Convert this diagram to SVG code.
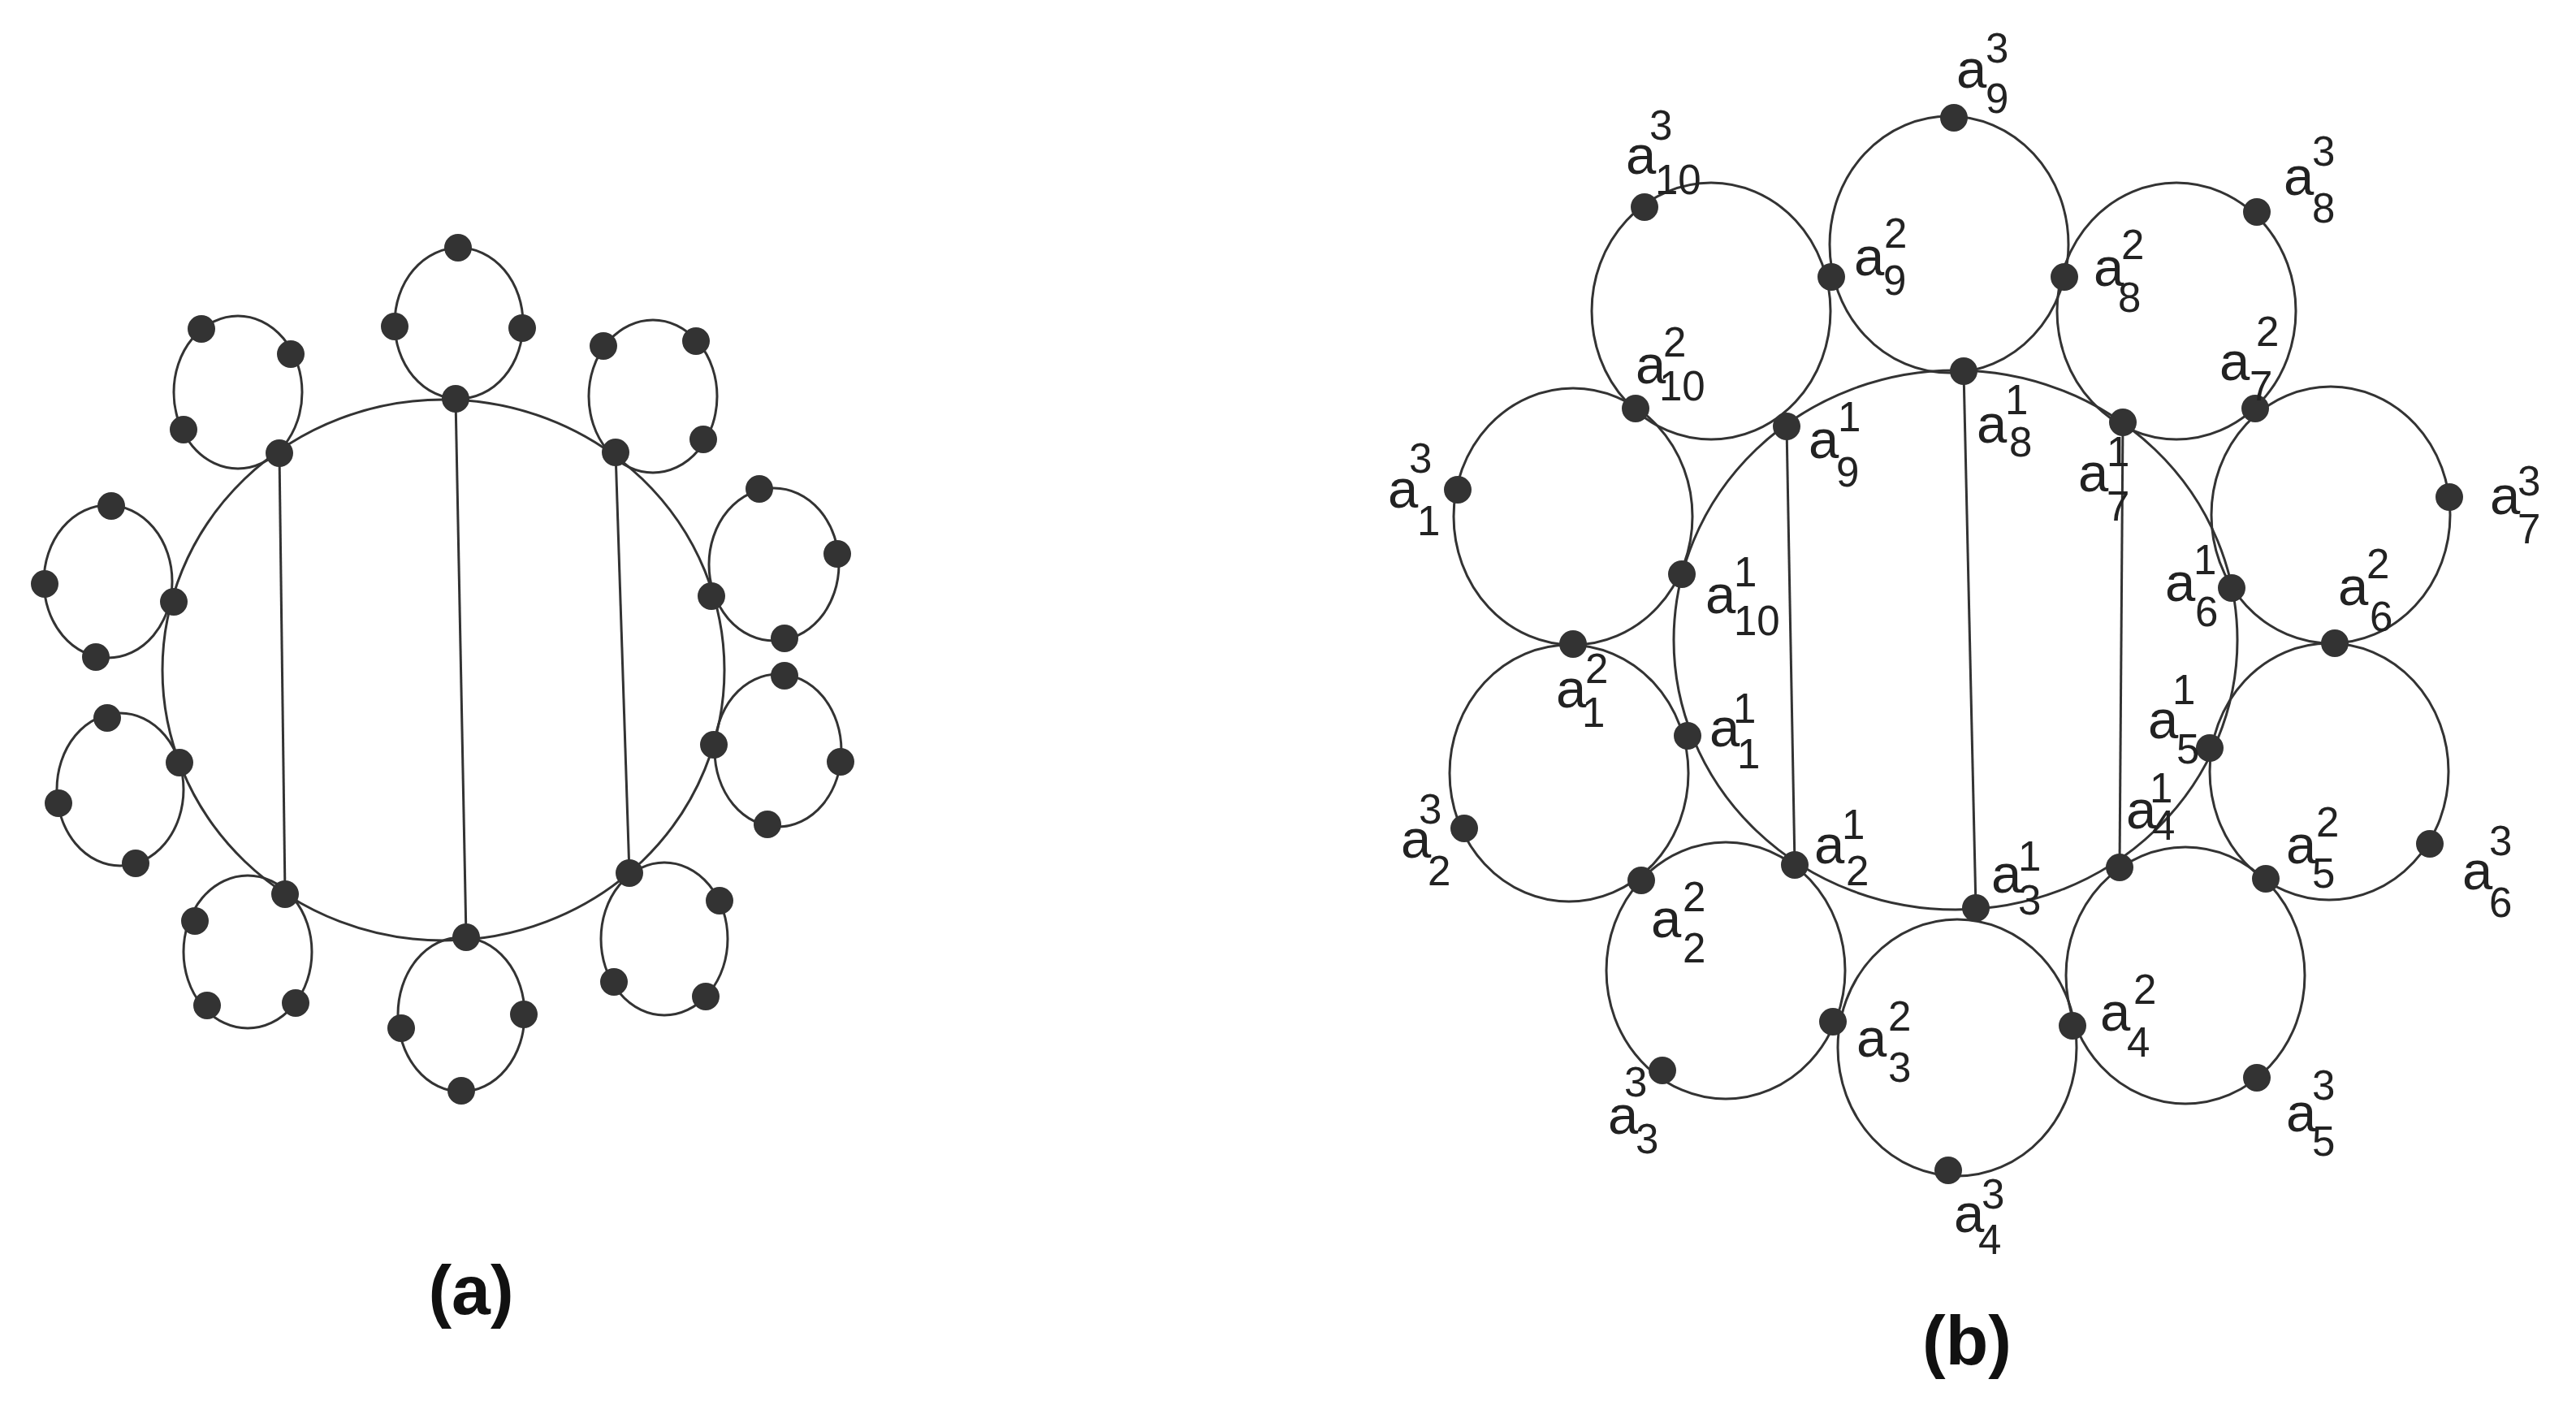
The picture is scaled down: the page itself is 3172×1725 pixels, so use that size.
<svg xmlns="http://www.w3.org/2000/svg" width="3172" height="1725" viewBox="0 0 3172 1725">
<style>
.c{fill:none;stroke:#333;stroke-width:3}
.e{stroke:#333;stroke-width:3}
.d{fill:#333}
.lb{font-family:"Liberation Sans",Arial,sans-serif;font-size:67px;fill:#222}
.s{font-size:51px}
.cap{font-family:"Liberation Sans",Arial,sans-serif;font-size:86px;font-weight:bold;fill:#111;text-anchor:middle}
</style>
<rect width="3172" height="1725" fill="#fff"/>
<g id="graph-a">
<g id="a-big"><ellipse class="c" cx="546" cy="825" rx="346" ry="333"/></g>
<g id="a-connectors">
<line class="e" x1="344" y1="558" x2="351" y2="1101"/>
<line class="e" x1="561" y1="491" x2="574" y2="1154"/>
<line class="e" x1="758" y1="557" x2="775" y2="1075"/>
</g>
<g id="a-c1"><ellipse class="c" cx="293" cy="483" rx="79" ry="94"/><circle class="d" cx="248" cy="405" r="17"/><circle class="d" cx="358" cy="436" r="17"/><circle class="d" cx="226" cy="529" r="17"/><circle class="d" cx="344" cy="558" r="17"/></g>
<g id="a-c2"><ellipse class="c" cx="565" cy="398" rx="79" ry="93"/><circle class="d" cx="564" cy="305" r="17"/><circle class="d" cx="486" cy="402" r="17"/><circle class="d" cx="643" cy="404" r="17"/><circle class="d" cx="561" cy="491" r="17"/></g>
<g id="a-c3"><ellipse class="c" cx="804" cy="488" rx="79" ry="94"/><circle class="d" cx="743" cy="426" r="17"/><circle class="d" cx="857" cy="420" r="17"/><circle class="d" cx="866" cy="541" r="17"/><circle class="d" cx="758" cy="557" r="17"/></g>
<g id="a-c4"><ellipse class="c" cx="953" cy="695" rx="80" ry="94"/><circle class="d" cx="935" cy="602" r="17"/><circle class="d" cx="1031" cy="682" r="17"/><circle class="d" cx="966" cy="786" r="17"/><circle class="d" cx="876" cy="734" r="17"/></g>
<g id="a-c5"><ellipse class="c" cx="958" cy="924" rx="78" ry="94"/><circle class="d" cx="966" cy="832" r="17"/><circle class="d" cx="1035" cy="938" r="17"/><circle class="d" cx="945" cy="1015" r="17"/><circle class="d" cx="879" cy="917" r="17"/></g>
<g id="a-c6"><ellipse class="c" cx="818" cy="1156" rx="78" ry="94"/><circle class="d" cx="886" cy="1109" r="17"/><circle class="d" cx="756" cy="1209" r="17"/><circle class="d" cx="869" cy="1227" r="17"/><circle class="d" cx="775" cy="1075" r="17"/></g>
<g id="a-c7"><ellipse class="c" cx="568" cy="1249" rx="78" ry="95"/><circle class="d" cx="494" cy="1266" r="17"/><circle class="d" cx="645" cy="1249" r="17"/><circle class="d" cx="568" cy="1343" r="17"/><circle class="d" cx="574" cy="1154" r="17"/></g>
<g id="a-c8"><ellipse class="c" cx="305" cy="1172" rx="79" ry="94"/><circle class="d" cx="240" cy="1134" r="17"/><circle class="d" cx="255" cy="1238" r="17"/><circle class="d" cx="364" cy="1235" r="17"/><circle class="d" cx="351" cy="1101" r="17"/></g>
<g id="a-c9"><ellipse class="c" cx="148" cy="972" rx="78" ry="94"/><circle class="d" cx="132" cy="884" r="17"/><circle class="d" cx="72" cy="989" r="17"/><circle class="d" cx="167" cy="1063" r="17"/><circle class="d" cx="221" cy="939" r="17"/></g>
<g id="a-c10"><ellipse class="c" cx="133" cy="716" rx="79" ry="94"/><circle class="d" cx="137" cy="623" r="17"/><circle class="d" cx="55" cy="719" r="17"/><circle class="d" cx="118" cy="809" r="17"/><circle class="d" cx="214" cy="741" r="17"/></g>
<text class="cap" x="580" y="1618">(a)</text>
</g>
<g id="graph-b">
<g id="b-big"><ellipse class="c" cx="2408" cy="788" rx="347" ry="332"/></g>
<g id="b-connectors">
<line class="e" x1="2200" y1="525" x2="2210" y2="1065"/>
<line class="e" x1="2418" y1="457" x2="2433" y2="1118"/>
<line class="e" x1="2614" y1="520" x2="2610" y2="1068"/>
</g>
<g id="b-circles">
<ellipse class="c" cx="2400" cy="301" rx="147" ry="158"/>
<ellipse class="c" cx="2107" cy="383" rx="147" ry="158"/>
<ellipse class="c" cx="2680" cy="383" rx="147" ry="158"/>
<ellipse class="c" cx="1937" cy="636" rx="147" ry="158"/>
<ellipse class="c" cx="2870" cy="634" rx="147" ry="158"/>
<ellipse class="c" cx="1932" cy="952" rx="147" ry="158"/>
<ellipse class="c" cx="2868" cy="950" rx="147" ry="158"/>
<ellipse class="c" cx="2125" cy="1195" rx="147" ry="158"/>
<ellipse class="c" cx="2691" cy="1201" rx="147" ry="158"/>
<ellipse class="c" cx="2410" cy="1290" rx="147" ry="158"/>
</g>
<g id="b-nodes">
<g id="n-a9-3"><circle class="d" cx="2406" cy="145" r="17"/><text class="lb" x="2409" y="108">a<tspan class="s" x="2445" y="77">3</tspan><tspan class="s" x="2445" y="139">9</tspan></text></g>
<g id="n-a10-3"><circle class="d" cx="2025" cy="255" r="17"/><text class="lb" x="2002" y="214">a<tspan class="s" x="2031" y="172">3</tspan><tspan class="s" x="2038" y="239">10</tspan></text></g>
<g id="n-a9-2"><circle class="d" cx="2255" cy="341" r="17"/><text class="lb" x="2283" y="339">a<tspan class="s" x="2320" y="305">2</tspan><tspan class="s" x="2319" y="363">9</tspan></text></g>
<g id="n-a8-2"><circle class="d" cx="2542" cy="341" r="17"/><text class="lb" x="2578" y="352">a<tspan class="s" x="2612" y="319">2</tspan><tspan class="s" x="2608" y="384">8</tspan></text></g>
<g id="n-a8-3"><circle class="d" cx="2779" cy="261" r="17"/><text class="lb" x="2812" y="240">a<tspan class="s" x="2847" y="204">3</tspan><tspan class="s" x="2847" y="274">8</tspan></text></g>
<g id="n-a10-2"><circle class="d" cx="2014" cy="503" r="17"/><text class="lb" x="2014" y="472">a<tspan class="s" x="2048" y="439">2</tspan><tspan class="s" x="2043" y="493">10</tspan></text></g>
<g id="n-a7-2"><circle class="d" cx="2777" cy="503" r="17"/><text class="lb" x="2733" y="468">a<tspan class="s" x="2778" y="426">2</tspan><tspan class="s" x="2770" y="493">7</tspan></text></g>
<g id="n-a8-1"><circle class="d" cx="2418" cy="457" r="17"/><text class="lb" x="2434" y="545">a<tspan class="s" x="2469" y="510">1</tspan><tspan class="s" x="2474" y="562">8</tspan></text></g>
<g id="n-a9-1"><circle class="d" cx="2200" cy="525" r="17"/><text class="lb" x="2227" y="564">a<tspan class="s" x="2263" y="531">1</tspan><tspan class="s" x="2261" y="599">9</tspan></text></g>
<g id="n-a7-1"><circle class="d" cx="2614" cy="520" r="17"/><text class="lb" x="2559" y="605">a<tspan class="s" x="2594" y="574">1</tspan><tspan class="s" x="2594" y="641">7</tspan></text></g>
<g id="n-a1-3"><circle class="d" cx="1795" cy="603" r="17"/><text class="lb" x="1709" y="625">a<tspan class="s" x="1735" y="582">3</tspan><tspan class="s" x="1745" y="659">1</tspan></text></g>
<g id="n-a7-3"><circle class="d" cx="3016" cy="612" r="17"/><text class="lb" x="3066" y="633">a<tspan class="s" x="3100" y="610">3</tspan><tspan class="s" x="3100" y="669">7</tspan></text></g>
<g id="n-a10-1"><circle class="d" cx="2071" cy="707" r="17"/><text class="lb" x="2100" y="755">a<tspan class="s" x="2135" y="722">1</tspan><tspan class="s" x="2135" y="782">10</tspan></text></g>
<g id="n-a6-1"><circle class="d" cx="2748" cy="724" r="17"/><text class="lb" x="2666" y="740">a<tspan class="s" x="2701" y="707">1</tspan><tspan class="s" x="2703" y="771">6</tspan></text></g>
<g id="n-a6-2"><circle class="d" cx="2875" cy="792" r="17"/><text class="lb" x="2879" y="745">a<tspan class="s" x="2914" y="712">2</tspan><tspan class="s" x="2918" y="777">6</tspan></text></g>
<g id="n-a1-2"><circle class="d" cx="1937" cy="793" r="17"/><text class="lb" x="1916" y="871">a<tspan class="s" x="1952" y="841">2</tspan><tspan class="s" x="1948" y="895">1</tspan></text></g>
<g id="n-a1-1"><circle class="d" cx="2078" cy="906" r="17"/><text class="lb" x="2105" y="919">a<tspan class="s" x="2134" y="890">1</tspan><tspan class="s" x="2139" y="946">1</tspan></text></g>
<g id="n-a5-1"><circle class="d" cx="2721" cy="921" r="17"/><text class="lb" x="2645" y="909">a<tspan class="s" x="2675" y="867">1</tspan><tspan class="s" x="2680" y="940">5</tspan></text></g>
<g id="n-a2-3"><circle class="d" cx="1803" cy="1020" r="17"/><text class="lb" x="1725" y="1056">a<tspan class="s" x="1747" y="1014">3</tspan><tspan class="s" x="1758" y="1090">2</tspan></text></g>
<g id="n-a6-3"><circle class="d" cx="2992" cy="1039" r="17"/><text class="lb" x="3032" y="1095">a<tspan class="s" x="3065" y="1053">3</tspan><tspan class="s" x="3065" y="1129">6</tspan></text></g>
<g id="n-a4-1"><circle class="d" cx="2610" cy="1068" r="17"/><text class="lb" x="2618" y="1020">a<tspan class="s" x="2647" y="988">1</tspan><tspan class="s" x="2650" y="1034">4</tspan></text></g>
<g id="n-a2-1"><circle class="d" cx="2210" cy="1065" r="17"/><text class="lb" x="2234" y="1063">a<tspan class="s" x="2268" y="1033">1</tspan><tspan class="s" x="2273" y="1090">2</tspan></text></g>
<g id="n-a5-2"><circle class="d" cx="2790" cy="1082" r="17"/><text class="lb" x="2815" y="1063">a<tspan class="s" x="2852" y="1030">2</tspan><tspan class="s" x="2847" y="1093">5</tspan></text></g>
<g id="n-a3-1"><circle class="d" cx="2433" cy="1118" r="17"/><text class="lb" x="2452" y="1099">a<tspan class="s" x="2485" y="1072">1</tspan><tspan class="s" x="2485" y="1126">3</tspan></text></g>
<g id="n-a2-2"><circle class="d" cx="2021" cy="1084" r="17"/><text class="lb" x="2033" y="1154">a<tspan class="s" x="2072" y="1122">2</tspan><tspan class="s" x="2072" y="1185">2</tspan></text></g>
<g id="n-a3-2"><circle class="d" cx="2257" cy="1258" r="17"/><text class="lb" x="2286" y="1301">a<tspan class="s" x="2325" y="1269">2</tspan><tspan class="s" x="2325" y="1332">3</tspan></text></g>
<g id="n-a4-2"><circle class="d" cx="2552" cy="1263" r="17"/><text class="lb" x="2586" y="1269">a<tspan class="s" x="2627" y="1236">2</tspan><tspan class="s" x="2619" y="1301">4</tspan></text></g>
<g id="n-a3-3"><circle class="d" cx="2047" cy="1318" r="17"/><text class="lb" x="1980" y="1396">a<tspan class="s" x="2000" y="1350">3</tspan><tspan class="s" x="2014" y="1420">3</tspan></text></g>
<g id="n-a5-3"><circle class="d" cx="2779" cy="1327" r="17"/><text class="lb" x="2815" y="1393">a<tspan class="s" x="2847" y="1354">3</tspan><tspan class="s" x="2847" y="1423">5</tspan></text></g>
<g id="n-a4-3"><circle class="d" cx="2399" cy="1441" r="17"/><text class="lb" x="2406" y="1517">a<tspan class="s" x="2440" y="1488">3</tspan><tspan class="s" x="2436" y="1544">4</tspan></text></g>
</g>
<text class="cap" x="2422" y="1680">(b)</text>
</g>
</svg>
